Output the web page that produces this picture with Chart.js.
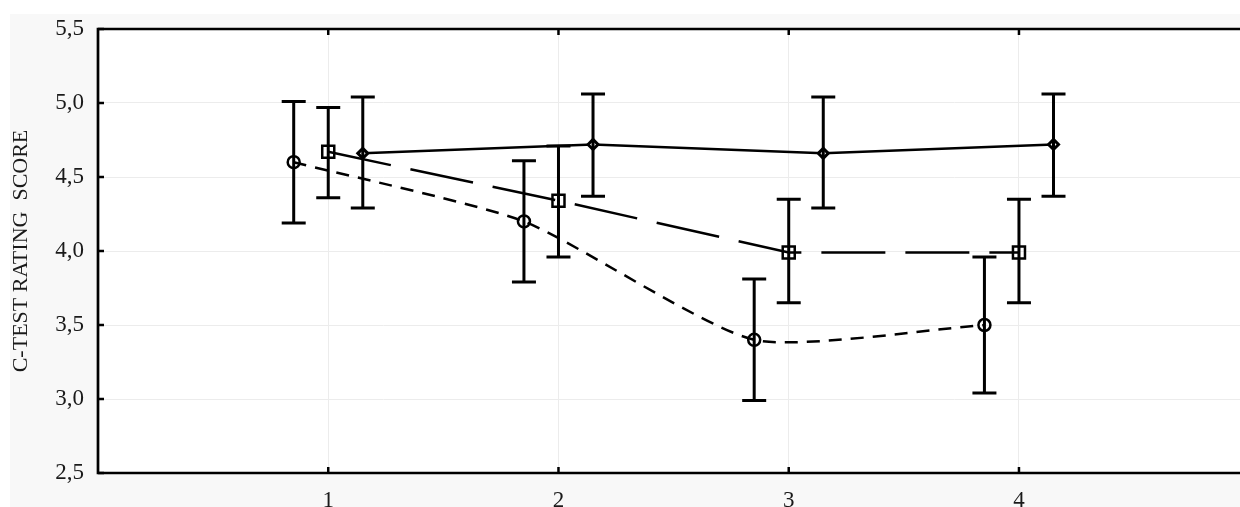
<!DOCTYPE html>
<html lang="en">
<head>
<meta charset="UTF-8">
<title>C-Test rating score</title>
<script src="https://cdn.jsdelivr.net/npm/chart.js"></script>
<style>
    html, body { margin: 0; padding: 0; background: #ffffff; overflow: hidden; }
    .stage { position: relative; width: 1240px; height: 507px; overflow: hidden; }
    .panel { position: absolute; left: 10px; top: 14px; right: 0; bottom: 0; background: #f8f8f8; }
    #chart { position: absolute; left: 0; top: 0; }
</style>
</head>
<body>
<div class="stage">
    <div class="panel"></div>
    <!-- a bit wider than the stage: Chart.js keeps ~11px on the right, the plot must reach the edge -->
    <canvas id="chart" width="1251" height="507"></canvas>
</div>
<script>
// --- DATA ---
const xTicks = [1, 2, 3, 4];
const yTicks = [2.5, 3.0, 3.5, 4.0, 4.5, 5.0, 5.5];
const yTitle = 'C-TEST RATING  SCORE';

// circles, short dashes
const xCircle = [0.85, 1.85, 2.85, 3.85];
const meanCircle = [4.60, 4.20, 3.40, 3.50];
const lowCircle = [4.19, 3.79, 2.99, 3.04];
const highCircle = [5.01, 4.61, 3.81, 3.96];

// squares, long dashes
const xSquare = [1, 2, 3, 4];
const meanSquare = [4.67, 4.34, 3.99, 3.99];
const lowSquare = [4.36, 3.96, 3.65, 3.65];
const highSquare = [4.97, 4.71, 4.35, 4.35];

// diamonds, solid
const xDiamond = [1.15, 2.15, 3.15, 4.15];
const meanDiamond = [4.66, 4.72, 4.66, 4.72];
const lowDiamond = [4.29, 4.37, 4.29, 4.37];
const highDiamond = [5.04, 5.06, 5.04, 5.06];

const FONT = "'Liberation Serif', 'Times New Roman', serif";
const pts = (xs, ys) => xs.map((x, i) => ({ x: x, y: ys[i] }));

const series = [
    { data: pts(xCircle, meanCircle), low: lowCircle, high: highCircle, dash: [13, 9], style: 'circle', radius: 6, tension: 0.2 },
    { data: pts(xSquare, meanSquare), low: lowSquare, high: highSquare, dash: [64, 20], style: 'rect', radius: 8.5, tension: 0 },
    { data: pts(xDiamond, meanDiamond), low: lowDiamond, high: highDiamond, dash: [], style: 'rectRot', radius: 5, tension: 0 }
];

// error bars with caps, drawn through the scales
const errorBars = {
    id: 'errorBars',
    afterDatasetsDraw(chart) {
        const { ctx, scales: { x, y } } = chart;
        ctx.save();
        ctx.strokeStyle = '#000';
        ctx.lineWidth = 3;
        series.forEach(s => {
            s.data.forEach((p, i) => {
                const px = x.getPixelForValue(p.x);
                const top = y.getPixelForValue(s.high[i]);
                const bot = y.getPixelForValue(s.low[i]);
                ctx.beginPath();
                ctx.moveTo(px, top); ctx.lineTo(px, bot);
                ctx.moveTo(px - 12, top); ctx.lineTo(px + 12, top);
                ctx.moveTo(px - 12, bot); ctx.lineTo(px + 12, bot);
                ctx.stroke();
            });
        });
        ctx.restore();
    }
};

// white plot area + black frame (left, top, bottom; the right side runs off the page) with inward ticks
const frame = {
    id: 'frame',
    beforeDraw(chart) {
        const { ctx, chartArea: a } = chart;
        ctx.save();
        ctx.fillStyle = '#ffffff';
        ctx.fillRect(a.left, a.top, a.right - a.left, a.bottom - a.top);
        ctx.restore();
    },
    afterDraw(chart) {
        const { ctx, chartArea: a, scales: { x, y } } = chart;
        ctx.save();
        ctx.strokeStyle = '#000';
        ctx.lineWidth = 2.7;
        ctx.beginPath();
        ctx.moveTo(a.right + 2, a.top);
        ctx.lineTo(a.left, a.top);
        ctx.lineTo(a.left, a.bottom);
        ctx.lineTo(a.right + 2, a.bottom);
        ctx.stroke();
        ctx.lineWidth = 2.5;
        ctx.beginPath();
        xTicks.forEach(v => {
            const px = x.getPixelForValue(v);
            ctx.moveTo(px, a.bottom); ctx.lineTo(px, a.bottom - 6);
            ctx.moveTo(px, a.top); ctx.lineTo(px, a.top + 6);
        });
        yTicks.forEach(v => {
            const py = y.getPixelForValue(v);
            ctx.moveTo(a.left, py); ctx.lineTo(a.left + 6, py);
        });
        ctx.stroke();
        ctx.restore();
    }
};

new Chart(document.getElementById('chart'), {
    type: 'scatter',
    data: {
        datasets: series.map(s => ({
            data: s.data,
            showLine: true,
            borderColor: '#000',
            borderWidth: 2.5,
            borderDash: s.dash,
            tension: s.tension,
            pointStyle: s.style,
            pointRadius: s.radius,
            pointBorderWidth: s.style === 'rectRot' ? 3 : 2.5,
            pointBorderColor: '#000',
            pointBackgroundColor: s.style === 'rectRot' ? '#ffffff' : 'rgba(0,0,0,0)'
        }))
    },
    options: {
        responsive: false,
        animation: false,
        events: [],
        layout: { padding: { top: 29, right: 0, left: 0, bottom: 0 } },
        plugins: { legend: { display: false }, tooltip: { enabled: false } },
        scales: {
            x: {
                type: 'linear',
                min: 0, max: 4.96,
                afterBuildTicks: s => { s.ticks = [0].concat(xTicks).map(v => ({ value: v })); },
                afterFit: s => { s.height = 34; },
                ticks: {
                    color: '#1a1a1a',
                    font: { family: FONT, size: 23 },
                    padding: 14,
                    maxRotation: 0,
                    callback: v => (xTicks.includes(v) ? String(v) : '')
                },
                grid: { color: '#ececec', lineWidth: 1, drawTicks: false },
                border: { display: false }
            },
            y: {
                min: 2.5, max: 5.5,
                afterBuildTicks: s => { s.ticks = yTicks.map(v => ({ value: v })); },
                afterFit: s => { s.width = 98; },
                ticks: {
                    color: '#1a1a1a',
                    font: { family: FONT, size: 23 },
                    padding: 14,
                    callback: v => v.toFixed(1).replace('.', ',')
                },
                grid: { color: '#ececec', lineWidth: 1, drawTicks: false },
                border: { display: false },
                title: {
                    display: true,
                    text: yTitle,
                    color: '#1a1a1a',
                    font: { family: FONT, size: 22 },
                    padding: { top: 8, bottom: 0 }
                }
            }
        }
    },
    plugins: [frame, errorBars]
});
</script>
</body>
</html>
